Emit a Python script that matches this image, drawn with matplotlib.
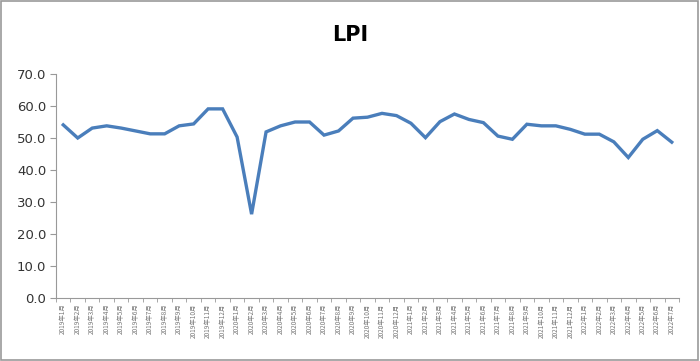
import matplotlib
matplotlib.use('Agg')
from matplotlib import pyplot as plt
import numpy as np

plt.rcParams['font.family'] = ['DejaVu Sans', 'Noto Sans CJK SC']

# months 2019-1 .. 2022-7
years = [2019]*12 + [2020]*12 + [2021]*12 + [2022]*7
months = list(range(1, 13))*3 + list(range(1, 8))
labels = ['%d年%d月' % (y, m) for y, m in zip(years, months)]

lpi = [54.1, 50.0, 53.1, 53.8, 53.1, 52.2, 51.3, 51.3, 53.8, 54.4, 59.1, 59.1,
       50.3, 26.2, 51.9, 53.8, 55.0, 55.0, 50.9, 52.2, 56.2, 56.5, 57.7, 57.0,
       54.6, 50.1, 55.1, 57.5, 55.8, 54.8, 50.6, 49.6, 54.3, 53.8, 53.8, 52.7,
       51.2, 51.2, 48.8, 43.9, 49.6, 52.3, 48.7]

fig = plt.figure(figsize=(7.0, 3.61), dpi=100)
ax = fig.add_axes([56/700, 1-298/361, (679-56)/700, (298-74)/361])

x = np.arange(len(lpi))
ax.plot(x, lpi, color='#4A7EBB', lw=2.4, solid_joinstyle='miter')

ax.set_xlim(-0.5, len(lpi)-0.5)
ax.set_ylim(0, 70)
ax.set_yticks(np.arange(0, 71, 10))
ax.set_yticklabels(['%.1f' % v for v in np.arange(0, 71, 10)], fontsize=9.5, color='#333333')
ax.set_xticks(x)
ax.set_xticklabels(labels, rotation=90, fontsize=4.6, color='#777777',
                   family=['Noto Sans CJK SC', 'DejaVu Sans'])
ax.set_xticks(np.arange(-0.5, len(lpi), 1), minor=True)
ax.tick_params(axis='x', which='major', length=0, pad=4)
ax.tick_params(axis='x', which='minor', length=3, color='#999999')
ax.tick_params(axis='y', length=4, color='#999999', pad=3)

for s in ['top', 'right']:
    ax.spines[s].set_visible(False)
for s in ['left', 'bottom']:
    ax.spines[s].set_color('#999999')
    ax.spines[s].set_linewidth(0.8)

fig.text(0.5, 1-35/361, 'LPI', ha='center', va='center', fontsize=15, fontweight='bold')

fig.patches.append(plt.Rectangle((0.002, 0.003), 0.995, 0.993, transform=fig.transFigure,
                                 fill=False, edgecolor='#999999', lw=1.2))

fig.savefig('out.png', dpi=100)
